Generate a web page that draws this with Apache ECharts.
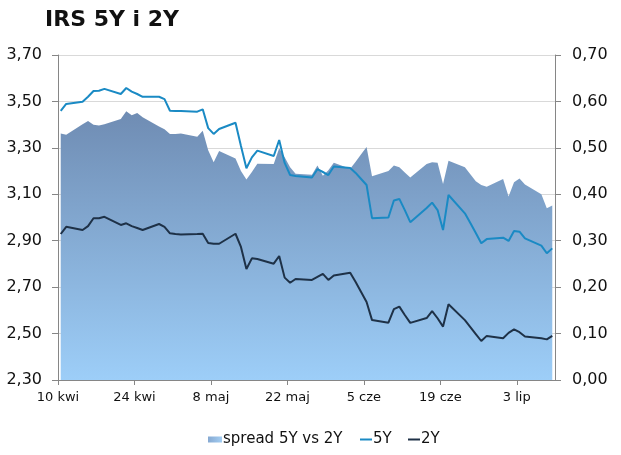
<!DOCTYPE html>
<html>
<head>
<meta charset="utf-8">
<script src="https://cdn.jsdelivr.net/npm/echarts@6/dist/echarts.min.js"></script>
<style>
html,body{margin:0;padding:0;background:#fff;}
#chart{width:621px;height:455px;}
</style>
</head>
<body>
<div id="chart"></div>
<script>
const dates = [
'2014-04-10','2014-04-11',
'2014-04-14','2014-04-15','2014-04-16','2014-04-17','2014-04-18',
'2014-04-21','2014-04-22','2014-04-23','2014-04-24','2014-04-25',
'2014-04-28','2014-04-29','2014-04-30','2014-05-01','2014-05-02',
'2014-05-05','2014-05-06','2014-05-07','2014-05-08','2014-05-09',
'2014-05-12','2014-05-13','2014-05-14','2014-05-15','2014-05-16',
'2014-05-19','2014-05-20','2014-05-21','2014-05-22','2014-05-23',
'2014-05-26','2014-05-27','2014-05-28','2014-05-29','2014-05-30',
'2014-06-02','2014-06-03','2014-06-04','2014-06-05','2014-06-06',
'2014-06-09','2014-06-10','2014-06-11','2014-06-12','2014-06-13',
'2014-06-16','2014-06-17','2014-06-18','2014-06-19','2014-06-20',
'2014-06-23','2014-06-24','2014-06-25','2014-06-26','2014-06-27',
'2014-06-30','2014-07-01','2014-07-02','2014-07-03','2014-07-04',
'2014-07-07','2014-07-08','2014-07-09'
];
const spread = [
0.531,0.528,
0.551,0.558,0.550,0.548,0.551,
0.562,0.579,0.570,0.575,0.566,
0.546,0.540,0.530,0.530,0.531,
0.524,0.537,0.495,0.469,0.493,
0.477,0.450,0.432,0.448,0.466,
0.465,0.499,0.480,0.458,0.444,
0.442,0.462,0.440,0.452,0.468,
0.455,0.470,0.486,0.502,0.439,
0.450,0.462,0.458,0.447,0.436,
0.465,0.469,0.468,0.422,0.472,
0.458,0.443,0.428,0.420,0.416,
0.433,0.395,0.426,0.434,0.421,
0.400,0.370,0.376
];
const irs5y = [
3.459,3.489,
3.499,3.520,3.545,3.546,3.554,
3.532,3.558,3.542,3.532,3.520,
3.520,3.510,3.460,3.459,3.459,
3.456,3.466,3.385,3.360,3.381,
3.408,3.308,3.212,3.259,3.288,
3.265,3.334,3.235,3.183,3.179,
3.172,3.208,3.196,3.183,3.220,
3.213,3.192,3.166,3.140,2.997,
3.000,3.073,3.080,3.032,2.980,
3.041,3.064,3.032,2.946,3.097,
3.018,2.976,2.933,2.889,2.907,
2.913,2.899,2.942,2.939,2.910,
2.879,2.846,2.867
];
const irs2y = [
2.929,2.960,
2.946,2.963,2.997,2.997,3.003,
2.968,2.975,2.963,2.955,2.946,
2.972,2.960,2.932,2.929,2.927,
2.929,2.930,2.890,2.887,2.887,
2.930,2.873,2.778,2.824,2.821,
2.801,2.834,2.741,2.719,2.735,
2.731,2.744,2.757,2.731,2.750,
2.762,2.722,2.679,2.636,2.558,
2.547,2.605,2.616,2.580,2.546,
2.567,2.597,2.566,2.530,2.626,
2.558,2.528,2.498,2.468,2.490,
2.480,2.503,2.518,2.506,2.487,
2.480,2.475,2.490
];
const xTickLabels = ['10 kwi','24 kwi','8 maj','22 maj','5 cze','19 cze','3 lip'];
const startDate = '2014-04-10';

const DAY = 86400000;
const t0 = Date.parse(startDate);
// Excel date axis places each day's point in the middle of the day slot
const dayPos = dates.map(d => (Date.parse(d) - t0) / DAY + 0.5);
const pairs = arr => arr.map((v, i) => [dayPos[i], v]);

const FONT = 'DejaVu Sans, Verdana, sans-serif';
const areaGrad = new echarts.graphic.LinearGradient(0, 0, 0, 1, [
  { offset: 0, color: '#6f8cb3' },
  { offset: 1, color: '#9dcef8' }
]);
const legendGrad = new echarts.graphic.LinearGradient(0, 0, 1, 0, [
  { offset: 0, color: '#86a9d2' },
  { offset: 1, color: '#a3cdf2' }
]);
const C5 = '#1a8ac4';
const C2 = '#1e3147';
const comma = v => v.toFixed(2).replace('.', ',');

const chart = echarts.init(document.getElementById('chart'), null, { renderer: 'canvas' });
chart.setOption({
  animation: false,
  backgroundColor: '#ffffff',
  title: {
    text: 'IRS 5Y i 2Y',
    left: 45, top: 9, padding: 0,
    textStyle: { fontFamily: FONT, fontSize: 22, fontWeight: 'bold', color: '#111' }
  },
  legend: [
    {
      data: [{ name: 'spread 5Y vs 2Y', itemStyle: { color: legendGrad } }],
      left: 208, top: 432, padding: 0,
      itemWidth: 14, itemHeight: 6, icon: 'rect',
      textStyle: { fontFamily: FONT, fontSize: 15, color: '#111', padding: [0, 0, 0, -4] }
    },
    {
      data: [{ name: '5Y', icon: 'rect' }],
      left: 360, top: 432, padding: 0,
      itemWidth: 12, itemHeight: 2,
      textStyle: { fontFamily: FONT, fontSize: 15, color: '#111', padding: [0, 0, 0, -4] }
    },
    {
      data: [{ name: '2Y', icon: 'rect' }],
      left: 408, top: 432, padding: 0,
      itemWidth: 12, itemHeight: 2,
      textStyle: { fontFamily: FONT, fontSize: 15, color: '#111', padding: [0, 0, 0, -4] }
    }
  ],
  grid: { left: 58, right: 66, top: 55, bottom: 75, containLabel: false },
  xAxis: {
    type: 'value',
    min: 0, max: 91, interval: 14,
    axisLine: { show: true, lineStyle: { color: '#868686', width: 1 } },
    axisTick: { show: true, length: 5, lineStyle: { color: '#868686' } },
    splitLine: { show: false },
    axisLabel: {
      margin: 11,
      fontFamily: FONT, fontSize: 13, color: '#111',
      showMaxLabel: false,
      formatter: v => (v % 14 === 0 && xTickLabels[v / 14] !== undefined) ? xTickLabels[v / 14] : ''
    }
  },
  yAxis: [
    {
      type: 'value', position: 'left',
      min: 2.3, max: 3.7, interval: 0.2,
      axisLine: { show: true, lineStyle: { color: '#868686', width: 1 } },
      axisTick: { show: true, length: 6, lineStyle: { color: '#868686' } },
      splitLine: { show: true, lineStyle: { color: '#d9d9d9', width: 1 } },
      axisLabel: { margin: 16, fontFamily: FONT, fontSize: 16, color: '#111', formatter: comma }
    },
    {
      type: 'value', position: 'right',
      min: 0, max: 0.7, interval: 0.1,
      axisLine: { show: true, lineStyle: { color: '#868686', width: 1 } },
      axisTick: { show: true, length: 6, lineStyle: { color: '#868686' } },
      splitLine: { show: false },
      axisLabel: { margin: 17, fontFamily: FONT, fontSize: 16, color: '#111', formatter: comma }
    }
  ],
  series: [
    {
      name: 'spread 5Y vs 2Y', type: 'line', yAxisIndex: 1,
      data: pairs(spread), symbol: 'none', smooth: false,
      color: '#7fa6d3',
      lineStyle: { width: 0, opacity: 0 },
      areaStyle: { color: areaGrad, opacity: 1 },
      z: 1
    },
    {
      name: '5Y', type: 'line', yAxisIndex: 0,
      data: pairs(irs5y), symbol: 'none', smooth: false,
      color: C5, itemStyle: { color: C5 },
      lineStyle: { width: 2, color: C5 },
      z: 3
    },
    {
      name: '2Y', type: 'line', yAxisIndex: 0,
      data: pairs(irs2y), symbol: 'none', smooth: false,
      color: C2, itemStyle: { color: C2 },
      lineStyle: { width: 2, color: C2 },
      z: 4
    }
  ]
});
</script>
</body>
</html>
